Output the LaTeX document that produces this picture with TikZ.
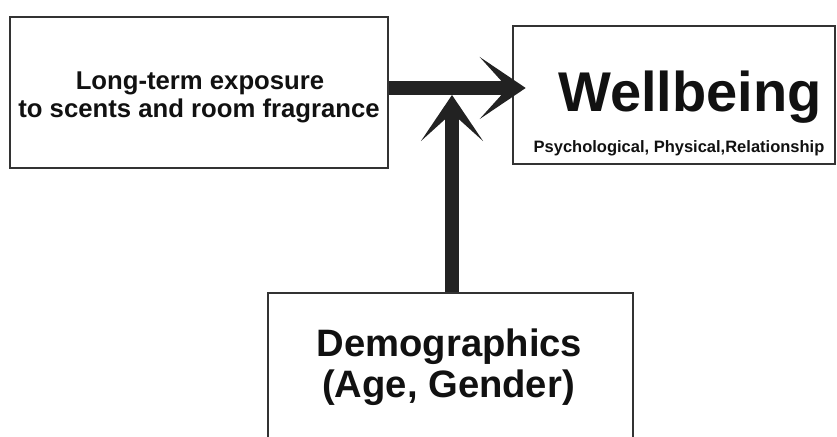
\documentclass[tikz,border=0pt]{standalone}
\usepackage{fontspec}
\setmainfont{Liberation Sans}
\usetikzlibrary{arrows.meta}
\definecolor{boxline}{HTML}{333333}
\definecolor{arrowcol}{HTML}{222222}
\definecolor{txt}{HTML}{111111}
\tikzset{
  box/.style={draw=boxline, line width=2.6pt, fill=white, inner sep=0pt},
  lbl/.style={anchor=base, inner sep=0pt, text=txt, font=\bfseries},
  bigarrow/.style={draw=arrowcol, line width=14.5pt,
    -{Stealth[length=46pt, width=62pt, inset=28pt, fill=arrowcol]}}
}
\begin{document}
\begin{tikzpicture}[x=1pt,y=1pt]
\useasboundingbox (0,0) rectangle (837,436);
% boxes
\node[box, minimum width=378pt, minimum height=151pt] (left) at (199,343.5) {};
\node[box, minimum width=322pt, minimum height=138pt] (wb) at (674,341) {};
\node[box, minimum width=365pt, minimum height=152pt] (demo) at (450.5,67) {};
% texts
\node[lbl, font=\bfseries\fontsize{25.7}{28}\selectfont] (l1) at (200,346) {Long-term exposure};
\node[lbl, font=\bfseries\fontsize{25.7}{28}\selectfont] (l2) at (199,318) {to scents and room fragrance};
\node[lbl, font=\bfseries\fontsize{56}{60}\selectfont] (w1) at (690,324) {Wellbeing};
\node[lbl, font=\bfseries\fontsize{16.5}{18}\selectfont] (w2) at (679,283) {Psychological, Physical,Relationship};
\node[lbl, font=\bfseries\fontsize{38.2}{42}\selectfont] (d1) at (449.5,79) {Demographics};
\node[lbl, font=\bfseries\fontsize{38.2}{42}\selectfont] (d2) at (448.5,38) {(Age, Gender)};
% connectors
\coordinate (join) at (452,341);
\draw[bigarrow, shorten >=-14pt] ([yshift=4.5pt]left.east) -- ([yshift=7pt]wb.west);
\draw[bigarrow] ([xshift=1.5pt]demo.north) -- (join);
\end{tikzpicture}
\end{document}
